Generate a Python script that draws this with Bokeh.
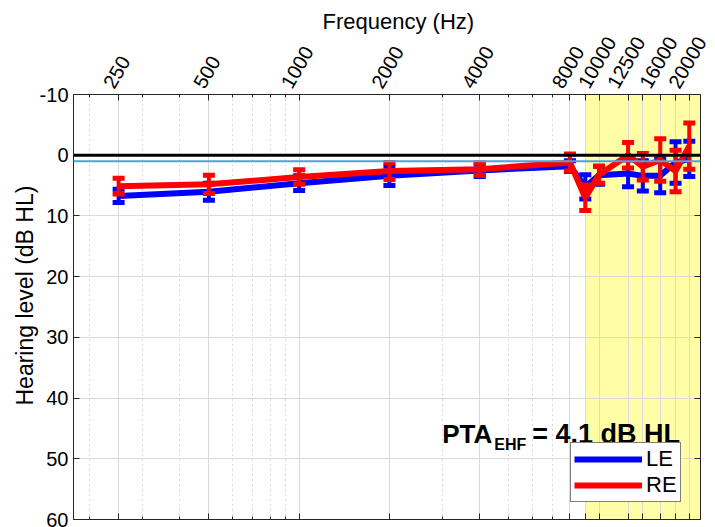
import numpy as np
from bokeh.plotting import figure
from bokeh.models import (Range1d, FixedTicker, LogAxis, LinearAxis, BoxAnnotation,
                          Span, Legend, LegendItem, Label, Title)
from bokeh.embed import file_html
from bokeh.resources import INLINE

# ---- data ----
freqs = [250, 500, 1000, 2000, 4000, 8000, 9000, 10000, 12500, 14000, 16000, 18000, 20000]
le_mean = [6.7, 6.0, 4.6, 3.4, 2.5, 1.8, 5.2, 3.3, 3.0, 3.4, 3.4, 1.2, 0.6]
le_err = [1.1, 1.4, 1.2, 1.6, 1.0, 0.9, 2.0, 1.5, 2.2, 2.5, 2.8, 3.4, 2.9]
re_mean = [5.1, 4.8, 3.6, 2.6, 2.3, 1.2, 7.0, 3.2, 0.0, 1.9, 0.8, 2.6, -1.5]
re_err = [1.3, 1.5, 1.2, 1.4, 1.0, 1.4, 2.1, 1.4, 2.1, 2.2, 3.5, 3.4, 3.8]

tick_freqs = [250, 500, 1000, 2000, 4000, 8000, 9000, 10000, 12500, 14000, 16000, 18000, 20000]
tick_labels = ["250", "500", "1000", "2000", "4000", "8000", "", "10000", "12500", "", "16000", "", "20000"]
minor_freqs = [200, 300, 400, 600, 700, 800, 900, 3000, 5000, 6000, 7000]
y_ticks = [-10, 0, 10, 20, 30, 40, 50, 60]
y_tick_labels = ["-10", "0", "10", "20", "30", "40", "50", "60"]

x_lo, x_hi = 176.8, 21800
y_lo, y_hi = -10, 60
ehf_start = 9000
pta_text = ["PTA", "EHF", "= 4.1 dB HL"]
legend_labels = ["LE", "RE"]
x_title = "Frequency (Hz)"
y_title = "Hearing level (dB HL)"

FONT = "Liberation Sans"
BLUE = "#0000FF"
RED = "#FF0000"
AX = "#262626"

W, H = 715, 527
FL, FR = 73, 700      # frame left / right (px)
FT, FB = 94, 519      # frame top / bottom (px)

p = figure(width=W, height=H, x_axis_type="log", x_axis_location="above",
           x_range=Range1d(x_lo, x_hi), y_range=Range1d(y_hi, y_lo),
           output_backend="svg", toolbar_location=None,
           min_border_left=FL, min_border_right=W - FR,
           min_border_top=FT, min_border_bottom=H - FB)
p.background_fill_color = "white"
p.border_fill_color = "white"
p.outline_line_color = AX
p.outline_line_width = 1

ticker = FixedTicker(ticks=tick_freqs, minor_ticks=minor_freqs)

def tick_only_x(ax):
    ax.ticker = ticker
    ax.major_label_overrides = {f: "" for f in tick_freqs}
    ax.major_label_text_font_size = "0px"
    ax.major_label_standoff = 0
    ax.axis_line_color = AX
    ax.major_tick_in = 6
    ax.major_tick_out = 0
    ax.minor_tick_in = 3
    ax.minor_tick_out = 0
    ax.major_tick_line_color = AX
    ax.minor_tick_line_color = AX

# top tick marks (innermost), bottom tick marks
tick_only_x(p.xaxis[0])
bottom_axis = LogAxis()
tick_only_x(bottom_axis)
p.add_layout(bottom_axis, "below")

# rotated frequency labels, centred over their ticks: label-only axis whose
# anchor points are moved left by a quarter of each label's length
px_per_oct = (FR - FL) / np.log2(x_hi / x_lo)
lab_f = [f for f, s in zip(tick_freqs, tick_labels) if s]
lab_s = [s for s in tick_labels if s]
anchor_f = [float(f * 2 ** (-(11.1 * len(s) / 4 + 2) / px_per_oct)) for f, s in zip(lab_f, lab_s)]
label_axis = LogAxis(ticker=FixedTicker(ticks=anchor_f, minor_ticks=[]),
                     major_label_overrides={a: s for a, s in zip(anchor_f, lab_s)},
                     major_label_orientation=np.pi / 3,
                     major_label_text_font=FONT, major_label_text_font_size="20px",
                     major_label_text_color="black", major_label_standoff=8,
                     major_tick_in=0, major_tick_out=0, minor_tick_in=0, minor_tick_out=0,
                     axis_line_color=None)
p.add_layout(label_axis, "above")
p.add_layout(Title(text=x_title, align="left", offset=249, standoff=-11, text_font=FONT,
                   text_font_size="22px", text_font_style="normal", text_color="black"), "above")

ya = p.yaxis[0]
ya.ticker = FixedTicker(ticks=y_ticks)
ya.major_label_overrides = {t: s for t, s in zip(y_ticks, y_tick_labels)}
ya.major_label_text_font = FONT
ya.major_label_text_font_size = "20px"
ya.major_label_text_color = "black"
ya.major_label_standoff = 5
ya.major_tick_in = 6
ya.major_tick_out = 0
ya.minor_tick_in = 0
ya.minor_tick_out = 0
ya.axis_line_color = AX
ya.major_tick_line_color = AX

ry = LinearAxis(ticker=FixedTicker(ticks=y_ticks), major_label_text_font_size="0px",
                major_label_standoff=0, major_tick_in=6, major_tick_out=0,
                minor_tick_in=0, minor_tick_out=0, axis_line_color=AX, major_tick_line_color=AX,
                major_label_overrides={t: "" for t in y_ticks})
p.add_layout(ry, "right")

p.add_layout(Title(text=y_title, align="left", offset=114, standoff=-3, text_font=FONT,
                   text_font_size="23px", text_font_style="normal", text_color="black"), "left")

# grids
p.xgrid.ticker = ticker
p.xgrid.grid_line_color = "#DADADA"
p.xgrid.grid_line_width = 1
p.xgrid.minor_grid_line_color = "#B4B4B4"
p.xgrid.minor_grid_line_dash = "1 4"
p.xgrid.minor_grid_line_width = 1
p.ygrid.ticker = FixedTicker(ticks=y_ticks)
p.ygrid.grid_line_color = "#DADADA"
p.ygrid.grid_line_width = 1

# EHF shaded region
p.add_layout(BoxAnnotation(left=ehf_start, right=x_hi, top=y_lo, bottom=y_hi,
                           fill_color="#FFFDA6", fill_alpha=1.0, line_alpha=0, level="image"))

# data
def draw(mean, err, color):
    m = np.array(mean, dtype=float)
    e = np.array(err, dtype=float)
    ln = p.line(freqs, m, line_color=color, line_width=6)
    p.segment(freqs, m - e, freqs, m + e, line_color=color, line_width=4)
    p.scatter(freqs, m - e, marker="dash", size=12, line_color=color, line_width=5)
    p.scatter(freqs, m + e, marker="dash", size=12, line_color=color, line_width=5)
    return ln

le_line = draw(le_mean, le_err, BLUE)
re_line = draw(re_mean, re_err, RED)

# reference lines
p.add_layout(Span(location=0, dimension="width", line_color="black", line_width=3))
p.add_layout(Span(location=1, dimension="width", line_color="#4DA3DF", line_width=2))

# PTA text
p.add_layout(Label(x=3000, y=45.9, text=pta_text[0], text_font=FONT, text_font_size="26px",
                   text_font_style="bold", text_color="black",
                   text_baseline="alphabetic", text_align="left"))
p.add_layout(Label(x=3000, y=47.6, x_offset=52, text=pta_text[1], text_font=FONT,
                   text_font_size="16px", text_font_style="bold", text_color="black",
                   text_baseline="alphabetic", text_align="left"))
p.add_layout(Label(x=3000, y=45.9, x_offset=90, text=pta_text[2], text_font=FONT,
                   text_font_size="27px", text_font_style="bold", text_color="black",
                   text_baseline="alphabetic", text_align="left"))

legend = Legend(items=[LegendItem(label=legend_labels[0], renderers=[le_line]),
                       LegendItem(label=legend_labels[1], renderers=[re_line])],
                location=(497, 17))
legend.label_text_font = FONT
legend.label_text_font_size = "22px"
legend.label_text_color = "black"
legend.border_line_color = "black"
legend.border_line_width = 1
legend.background_fill_color = "white"
legend.background_fill_alpha = 1
legend.glyph_width = 68
legend.glyph_height = 20
legend.label_height = 20
legend.spacing = 0
legend.padding = 3
legend.margin = 0
legend.label_standoff = 4
p.add_layout(legend)

open("out.html", "w").write(file_html(p, INLINE))
